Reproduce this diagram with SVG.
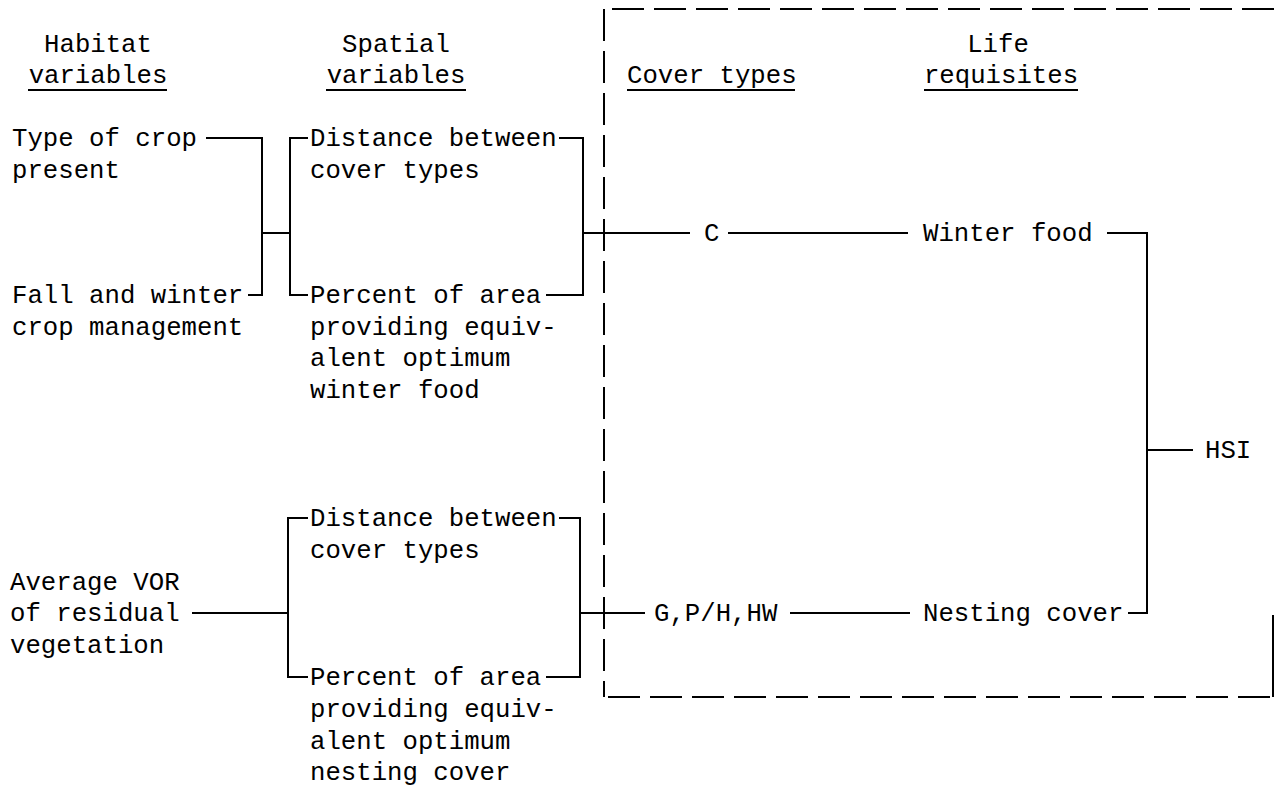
<svg xmlns="http://www.w3.org/2000/svg" width="1275" height="787" viewBox="0 0 1275 787">
<style>
text{font-family:"Liberation Mono","DejaVu Sans Mono",monospace;font-size:25.7px;fill:#000}
.m{text-anchor:middle}
line,path{stroke:#000;stroke-width:2;fill:none}
.d{stroke-dasharray:32 10}
</style>
<rect width="1275" height="787" fill="#fff"/>
<g id="boundary">
<line class="d" x1="612" y1="9" x2="1275" y2="9"/>
<line class="d" x1="604" y1="9" x2="604" y2="697"/>
<line class="d" x1="608" y1="697" x2="1275" y2="697"/>
<line x1="1273" y1="615" x2="1273" y2="697"/>
</g>
<g id="headers">
<text class="m" x="98" y="52">Habitat</text>
<text class="m" x="98" y="83">variables</text>
<line x1="28" y1="90" x2="167" y2="90"/>
<text class="m" x="396" y="52">Spatial</text>
<text class="m" x="396" y="83">variables</text>
<line x1="326" y1="90" x2="466" y2="90"/>
<text x="627" y="83">Cover types</text>
<line x1="627" y1="90" x2="795" y2="90"/>
<text class="m" x="998" y="52">Life</text>
<text class="m" x="1001" y="83">requisites</text>
<line x1="924" y1="90" x2="1078" y2="90"/>
</g>
<g id="hv-crop"><text x="12" y="146">Type of crop</text><text x="12" y="178">present</text></g>
<g id="hv-mgmt"><text x="12" y="303">Fall and winter</text><text x="12" y="335">crop management</text></g>
<g id="sv-dist1"><text x="310" y="146">Distance between</text><text x="310" y="178">cover types</text></g>
<g id="sv-pct1"><text x="310" y="303">Percent of area</text><text x="310" y="335">providing equiv-</text><text x="310" y="366">alent optimum</text><text x="310" y="398">winter food</text></g>
<g id="ct-c"><text x="704" y="241">C</text></g>
<g id="lr-winter"><text x="923" y="241">Winter food</text></g>
<g id="hsi"><text x="1205" y="458">HSI</text></g>
<g id="hv-vor"><text x="10" y="590">Average VOR</text><text x="10" y="621">of residual</text><text x="10" y="653">vegetation</text></g>
<g id="sv-dist2"><text x="310" y="526">Distance between</text><text x="310" y="558">cover types</text></g>
<g id="sv-pct2"><text x="310" y="685">Percent of area</text><text x="310" y="717">providing equiv-</text><text x="310" y="749">alent optimum</text><text x="310" y="780">nesting cover</text></g>
<g id="ct-g"><text x="654" y="621">G,P/H,HW</text></g>
<g id="lr-nest"><text x="923" y="621">Nesting cover</text></g>
<g id="connectors">
<path d="M206,138 H262 V295 H248"/>
<line x1="262" y1="233" x2="290" y2="233"/>
<path d="M308,138 H290 V295 H308"/>
<path d="M559,138 H583 V295 H546"/>
<line x1="583" y1="233" x2="690" y2="233"/>
<line x1="728" y1="233" x2="908" y2="233"/>
<path d="M1107,233 H1147 V613 H1128"/>
<line x1="1147" y1="450" x2="1193" y2="450"/>
<line x1="192" y1="613" x2="288" y2="613"/>
<path d="M308,518 H288 V677 H308"/>
<path d="M559,518 H580 V677 H546"/>
<line x1="580" y1="613" x2="645" y2="613"/>
<line x1="790" y1="613" x2="910" y2="613"/>
</g>
</svg>
